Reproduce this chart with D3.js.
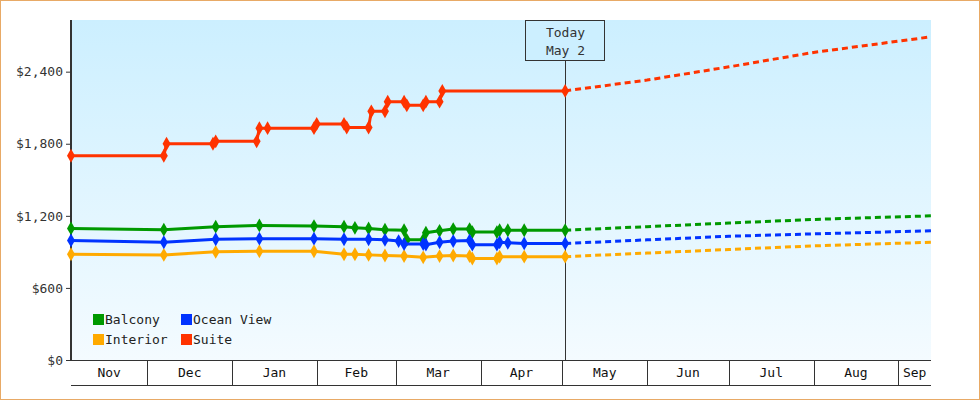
<!DOCTYPE html>
<html>
<head>
<meta charset="utf-8">
<script src="https://cdn.jsdelivr.net/npm/d3@7"></script>
<style>
body { margin: 0; background: #fff; }
svg { font-family: "DejaVu Sans Mono", monospace; font-size: 13px; }
</style>
</head>
<body>
<svg width="980" height="400"></svg>
<script>
// Fare history per cabin type: [date, price]
const suite = [["2023-11-03",1700],["2023-12-07",1700],["2023-12-08",1800],["2023-12-25",1800],["2023-12-26",1820],
  ["2024-01-10",1820],["2024-01-11",1930],["2024-01-14",1930],["2024-01-31",1930],["2024-02-01",1965],["2024-02-11",1965],
  ["2024-02-12",1935],["2024-02-20",1935],["2024-02-21",2070],["2024-02-26",2070],["2024-02-27",2150],["2024-03-04",2150],
  ["2024-03-05",2120],["2024-03-11",2120],["2024-03-12",2150],["2024-03-17",2150],["2024-03-18",2240],["2024-05-02",2240]];
const balcony = [["2023-11-03",1095],["2023-12-07",1085],["2023-12-26",1110],["2024-01-11",1120],["2024-01-31",1115],
  ["2024-02-11",1110],["2024-02-15",1100],["2024-02-20",1095],["2024-02-26",1085],["2024-03-04",1080],["2024-03-05",1000],
  ["2024-03-11",1000],["2024-03-12",1060],["2024-03-17",1075],["2024-03-22",1090],["2024-03-28",1090],["2024-03-29",1065],
  ["2024-04-07",1065],["2024-04-08",1080],["2024-04-11",1080],["2024-04-17",1080],["2024-05-02",1080]];
const oceanView = [["2023-11-03",995],["2023-12-07",980],["2023-12-26",1005],["2024-01-11",1010],["2024-01-31",1010],
  ["2024-02-11",1005],["2024-02-20",1005],["2024-02-26",1000],["2024-03-02",990],["2024-03-04",965],["2024-03-11",965],
  ["2024-03-12",960],["2024-03-17",980],["2024-03-22",990],["2024-03-28",995],["2024-03-29",960],["2024-04-07",960],
  ["2024-04-08",980],["2024-04-11",975],["2024-04-17",970],["2024-05-02",970]];
const interior = [["2023-11-03",880],["2023-12-07",875],["2023-12-26",900],["2024-01-11",905],["2024-01-31",905],
  ["2024-02-11",880],["2024-02-15",880],["2024-02-20",875],["2024-02-26",870],["2024-03-04",865],["2024-03-11",855],
  ["2024-03-17",865],["2024-03-22",870],["2024-03-28",865],["2024-03-29",845],["2024-04-07",845],["2024-04-08",860],
  ["2024-04-17",860],["2024-05-02",860]];
// Projected fares after today
const suiteForecast = [["2024-05-02",2240],["2024-06-01",2330],["2024-07-01",2440],["2024-08-01",2560],["2024-09-13",2690]];
const balconyForecast = [["2024-05-02",1080],["2024-06-01",1110],["2024-07-01",1140],["2024-08-01",1170],["2024-09-13",1200]];
const oceanForecast = [["2024-05-02",970],["2024-06-01",1000],["2024-07-01",1030],["2024-08-01",1050],["2024-09-13",1075]];
const interiorForecast = [["2024-05-02",860],["2024-06-01",890],["2024-07-01",920],["2024-08-01",950],["2024-09-13",980]];
const yTicks = [0, 600, 1200, 1800, 2400];
const today = "2024-05-02";

const parse = d3.timeParse("%Y-%m-%d");
const series = [
  { name: "Balcony", color: "#009900", data: balcony, fc: balconyForecast },
  { name: "Interior", color: "#ffaa00", data: interior, fc: interiorForecast },
  { name: "Ocean View", color: "#0033ff", data: oceanView, fc: oceanForecast },
  { name: "Suite", color: "#ff3300", data: suite, fc: suiteForecast }
];

const svg = d3.select("svg");
const plotLeft = 71, plotRight = 931, plotTop = 20, plotBottom = 360;
const x = d3.scaleTime().domain([parse("2023-11-03"), parse("2024-09-13")]).range([plotLeft, plotRight]);
const y = d3.scaleLinear().domain([0, 2830]).range([plotBottom, plotTop]);

// outer frame
svg.append("rect").attr("x", 0.5).attr("y", 0.5).attr("width", 979).attr("height", 399)
  .attr("fill", "none").attr("stroke", "#e8aa66");

const grad = svg.append("defs").append("linearGradient").attr("id", "bg")
  .attr("x1", 0).attr("y1", 0).attr("x2", 0).attr("y2", 1);
grad.append("stop").attr("offset", 0).attr("stop-color", "#ccefff");
grad.append("stop").attr("offset", 1).attr("stop-color", "#f4fbff");
svg.append("rect").attr("x", plotLeft).attr("y", plotTop).attr("width", plotRight - plotLeft).attr("height", plotBottom - plotTop)
  .attr("fill", "url(#bg)");

// y axis
const yAxis = svg.append("g").attr("transform", `translate(${plotLeft},0)`)
  .call(d3.axisLeft(y).tickValues(yTicks).tickSize(5).tickFormat(d => "$" + d3.format(",")(d)));
yAxis.select(".domain").attr("d", `M0,${plotTop}V${plotBottom}`).attr("stroke", "#333").attr("stroke-width", 2);
yAxis.selectAll("text").attr("font-family", "DejaVu Sans Mono").attr("font-size", 13).attr("fill", "#333");
yAxis.selectAll("line").attr("stroke", "#333");

// month band below plot
const months = d3.timeMonth.range(parse("2023-11-01"), parse("2024-10-01"));
const band = svg.append("g");
band.append("line").attr("x1", plotLeft).attr("x2", plotRight).attr("y1", plotBottom + 0.5).attr("y2", plotBottom + 0.5).attr("stroke", "#333");
band.append("line").attr("x1", plotLeft).attr("x2", plotRight).attr("y1", 385.5).attr("y2", 385.5).attr("stroke", "#333");
months.forEach(m => {
  const x0 = Math.max(plotLeft, x(m)), x1 = Math.min(plotRight, x(d3.timeMonth.offset(m, 1)));
  if (x(m) > plotLeft) band.append("line").attr("x1", Math.round(x0) + 0.5).attr("x2", Math.round(x0) + 0.5)
    .attr("y1", plotBottom).attr("y2", 385).attr("stroke", "#333");
  band.append("text").attr("x", (x0 + x1) / 2).attr("y", 377).attr("text-anchor", "middle")
    .attr("fill", "#111").text(d3.timeFormat("%b")(m));
});

// today marker
const tx = Math.round(x(parse(today))) + 0.5;
svg.append("line").attr("x1", tx).attr("x2", tx).attr("y1", 60).attr("y2", plotBottom).attr("stroke", "#333");
svg.append("rect").attr("x", tx - 40).attr("y", 20.5).attr("width", 79).attr("height", 40)
  .attr("fill", "#ccefff").attr("stroke", "#333");
svg.append("text").attr("x", tx).attr("y", 37).attr("text-anchor", "middle").attr("fill", "#333").text("Today");
svg.append("text").attr("x", tx).attr("y", 55).attr("text-anchor", "middle").attr("fill", "#333").text("May 2");

const line = d3.line().x(d => x(parse(d[0]))).y(d => y(d[1]));
series.forEach(s => {
  svg.append("path").attr("d", line(s.fc)).attr("fill", "none").attr("stroke", s.color)
    .attr("stroke-width", 3).attr("stroke-dasharray", "6,4");
  svg.append("path").attr("d", line(s.data)).attr("fill", "none").attr("stroke", s.color).attr("stroke-width", 3);
  svg.append("g").selectAll("path").data(s.data).join("path")
    .attr("transform", d => `translate(${x(parse(d[0]))},${y(d[1])})`)
    .attr("d", d3.symbol(d3.symbolDiamond, 55)).attr("fill", s.color);
});

// legend
const legend = svg.append("g");
series.forEach((s, i) => {
  const lx = 93 + (i >= 2 ? 88 : 0), ly = 314 + (i % 2) * 20;
  const g = legend.append("g").attr("transform", `translate(${lx},${ly})`);
  g.append("rect").attr("width", 11).attr("height", 11).attr("fill", s.color);
  g.append("text").attr("x", 12).attr("y", 10).attr("fill", "#222").text(s.name);
});
</script>
</body>
</html>
